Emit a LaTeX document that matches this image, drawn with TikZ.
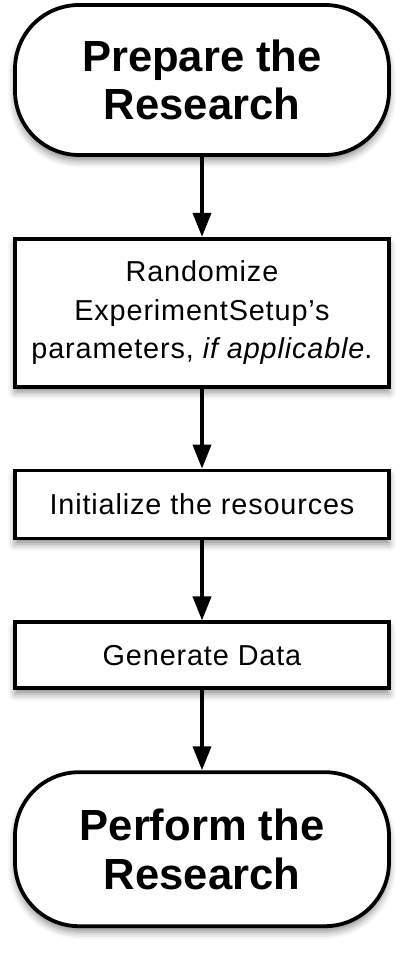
\documentclass[tikz,border=0pt]{standalone}
\usepackage{fontspec}
\setmainfont{Liberation Sans}
\usepackage{tikz}
\usetikzlibrary{arrows.meta,positioning,shadows.blur}

\begin{document}
\begin{tikzpicture}[
    >={Triangle[length=0.6cm,width=0.45cm]},
    node distance=2cm,
    line width=2.7pt,
    terminal/.style={
        rectangle,
        rounded corners=1.6cm,
        draw=black,
        fill=white,
        blur shadow={shadow xshift=0pt,shadow yshift=-4pt,shadow blur radius=5pt,shadow opacity=45},
        minimum width=9.35cm,
        minimum height=3.75cm,
        align=center,
        font=\fontsize{31pt}{34.5pt}\selectfont\bfseries
    },
    box/.style={
        rectangle,
        draw=black,
        fill=white,
        blur shadow={shadow xshift=0pt,shadow yshift=-4pt,shadow blur radius=5pt,shadow opacity=45},
        minimum width=9.35cm,
        align=center,
        font=\fontsize{20.5pt}{27.5pt}\selectfont\addfontfeatures{LetterSpace=3}
    }
]
\useasboundingbox (0,0) rectangle (10.2,-23.85);
\node[terminal] (prepare) at (5.05,-2.0) {Prepare the\\Research};
\node[box, minimum height=3.7cm, below=of prepare] (randomize) {Randomize\\ExperimentSetup’s\\parameters, \textit{if applicable}.};
\node[box, minimum height=1.7cm, below=of randomize] (init) {Initialize the resources};
\node[box, minimum height=1.65cm, below=of init] (generate) {Generate Data};
\node[terminal, minimum height=3.85cm, below=of generate] (perform) {Perform the\\Research};

\draw[->] (prepare) -- (randomize);
\draw[->] (randomize) -- (init);
\draw[->] (init) -- (generate);
\draw[->] (generate) -- (perform);
\end{tikzpicture}
\end{document}
